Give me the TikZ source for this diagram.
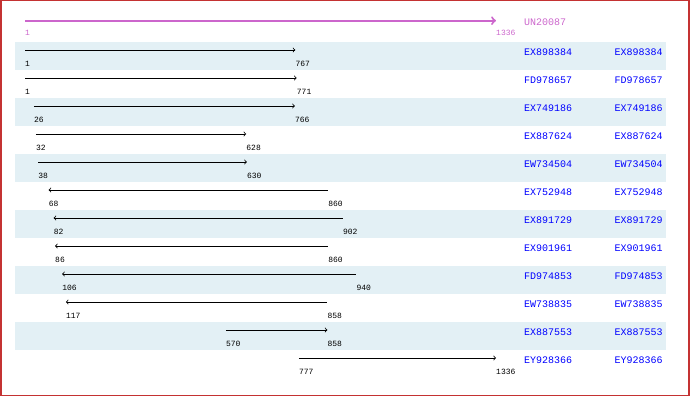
\documentclass[tikz,border=0pt]{standalone}
\usepackage{fontspec}
\setmonofont{Liberation Mono}
\usetikzlibrary{arrows, positioning}
\definecolor{frame}{RGB}{196,50,50}
\definecolor{band}{RGB}{227,240,245}
\definecolor{query}{RGB}{204,102,204}
\definecolor{accblue}{RGB}{0,0,255}
\tikzset{
  hit/.style={line width=0.8pt},
  fwd/.style={hit, ->},
  rev/.style={hit, <-},
  num/.style={font=\ttfamily\fontsize{8}{8}\selectfont, inner sep=0pt},
  acc/.style={font=\ttfamily\fontsize{10}{10}\selectfont, text=accblue,
    inner sep=0pt, anchor=west},
}

\begin{document}
\begin{tikzpicture}[x=1pt, y=-1pt]

      \useasboundingbox (0,0) rectangle (690,396);
      \draw[frame, line width=1.2pt] (1,0.6) rectangle (689,395.4);

      % --- Shaded rows ---
      \fill[band] (15,42) rectangle (666,70);
      \fill[band] (15,98) rectangle (666,126);
      \fill[band] (15,154) rectangle (666,182);
      \fill[band] (15,210) rectangle (666,238);
      \fill[band] (15,266) rectangle (666,294);
      \fill[band] (15,322) rectangle (666,350);

      % --- Query ---
      \coordinate (ql) at (25,20.7);
      \coordinate (qr) at (496,20.7);
      \draw[query, line width=2pt, ->] (ql) -- (qr);
      \node[num, text=query, below right=9.5pt and 0pt of ql] (qls) {1};
      \node[num, text=query, below right=9.5pt and 0pt of qr] (qrs) {1336};
      \node[acc, text=query] (q) at (524,22) {UN20087};

      % --- Hits ---
      \coordinate (l1) at (25,50);     \coordinate (r1) at (295.3,50);
      \draw[fwd] (l1) -- (r1);
      \node[num, below right=11pt and 0pt of l1] (ls1) {1};
      \node[num, below right=11pt and 0pt of r1] (rs1) {767};
      \node[acc] (n1) at (524,52) {EX898384};
      \node[acc, right=42pt of n1] (m1) {EX898384};

      \coordinate (l2) at (25,78);     \coordinate (r2) at (296.7,78);
      \draw[fwd] (l2) -- (r2);
      \node[num, below right=11pt and 0pt of l2] (ls2) {1};
      \node[num, below right=11pt and 0pt of r2] (rs2) {771};
      \node[acc] (n2) at (524,80) {FD978657};
      \node[acc, right=42pt of n2] (m2) {FD978657};

      \coordinate (l3) at (33.8,106);  \coordinate (r3) at (294.9,106);
      \draw[fwd] (l3) -- (r3);
      \node[num, below right=11pt and 0pt of l3] (ls3) {26};
      \node[num, below right=11pt and 0pt of r3] (rs3) {766};
      \node[acc] (n3) at (524,108) {EX749186};
      \node[acc, right=42pt of n3] (m3) {EX749186};

      \coordinate (l4) at (35.9,134);  \coordinate (r4) at (246.2,134);
      \draw[fwd] (l4) -- (r4);
      \node[num, below right=11pt and 0pt of l4] (ls4) {32};
      \node[num, below right=11pt and 0pt of r4] (rs4) {628};
      \node[acc] (n4) at (524,136) {EX887624};
      \node[acc, right=42pt of n4] (m4) {EX887624};

      \coordinate (l5) at (38.1,162);  \coordinate (r5) at (246.9,162);
      \draw[fwd] (l5) -- (r5);
      \node[num, below right=11pt and 0pt of l5] (ls5) {38};
      \node[num, below right=11pt and 0pt of r5] (rs5) {630};
      \node[acc] (n5) at (524,164) {EW734504};
      \node[acc, right=42pt of n5] (m5) {EW734504};

      \coordinate (l6) at (48.6,190);  \coordinate (r6) at (328.1,190);
      \draw[rev] (l6) -- (r6);
      \node[num, below right=11pt and 0pt of l6] (ls6) {68};
      \node[num, below right=11pt and 0pt of r6] (rs6) {860};
      \node[acc] (n6) at (524,192) {EX752948};
      \node[acc, right=42pt of n6] (m6) {EX752948};

      \coordinate (l7) at (53.6,218);  \coordinate (r7) at (342.9,218);
      \draw[rev] (l7) -- (r7);
      \node[num, below right=11pt and 0pt of l7] (ls7) {82};
      \node[num, below right=11pt and 0pt of r7] (rs7) {902};
      \node[acc] (n7) at (524,220) {EX891729};
      \node[acc, right=42pt of n7] (m7) {EX891729};

      \coordinate (l8) at (55.0,246);  \coordinate (r8) at (328.1,246);
      \draw[rev] (l8) -- (r8);
      \node[num, below right=11pt and 0pt of l8] (ls8) {86};
      \node[num, below right=11pt and 0pt of r8] (rs8) {860};
      \node[acc] (n8) at (524,248) {EX901961};
      \node[acc, right=42pt of n8] (m8) {EX901961};

      \coordinate (l9) at (62.1,274);  \coordinate (r9) at (356.3,274);
      \draw[rev] (l9) -- (r9);
      \node[num, below right=11pt and 0pt of l9] (ls9) {106};
      \node[num, below right=11pt and 0pt of r9] (rs9) {940};
      \node[acc] (n9) at (524,276) {FD974853};
      \node[acc, right=42pt of n9] (m9) {FD974853};

      \coordinate (l10) at (65.9,302); \coordinate (r10) at (327.4,302);
      \draw[rev] (l10) -- (r10);
      \node[num, below right=11pt and 0pt of l10] (ls10) {117};
      \node[num, below right=11pt and 0pt of r10] (rs10) {858};
      \node[acc] (n10) at (524,304) {EW738835};
      \node[acc, right=42pt of n10] (m10) {EW738835};

      \coordinate (l11) at (225.8,330); \coordinate (r11) at (327.4,330);
      \draw[fwd] (l11) -- (r11);
      \node[num, below right=11pt and 0pt of l11] (ls11) {570};
      \node[num, below right=11pt and 0pt of r11] (rs11) {858};
      \node[acc] (n11) at (524,332) {EX887553};
      \node[acc, right=42pt of n11] (m11) {EX887553};

      \coordinate (l12) at (298.8,358); \coordinate (r12) at (496,358);
      \draw[fwd] (l12) -- (r12);
      \node[num, below right=11pt and 0pt of l12] (ls12) {777};
      \node[num, below right=11pt and 0pt of r12] (rs12) {1336};
      \node[acc] (n12) at (524,360) {EY928366};
      \node[acc, right=42pt of n12] (m12) {EY928366};

    \end{tikzpicture}
\end{document}
